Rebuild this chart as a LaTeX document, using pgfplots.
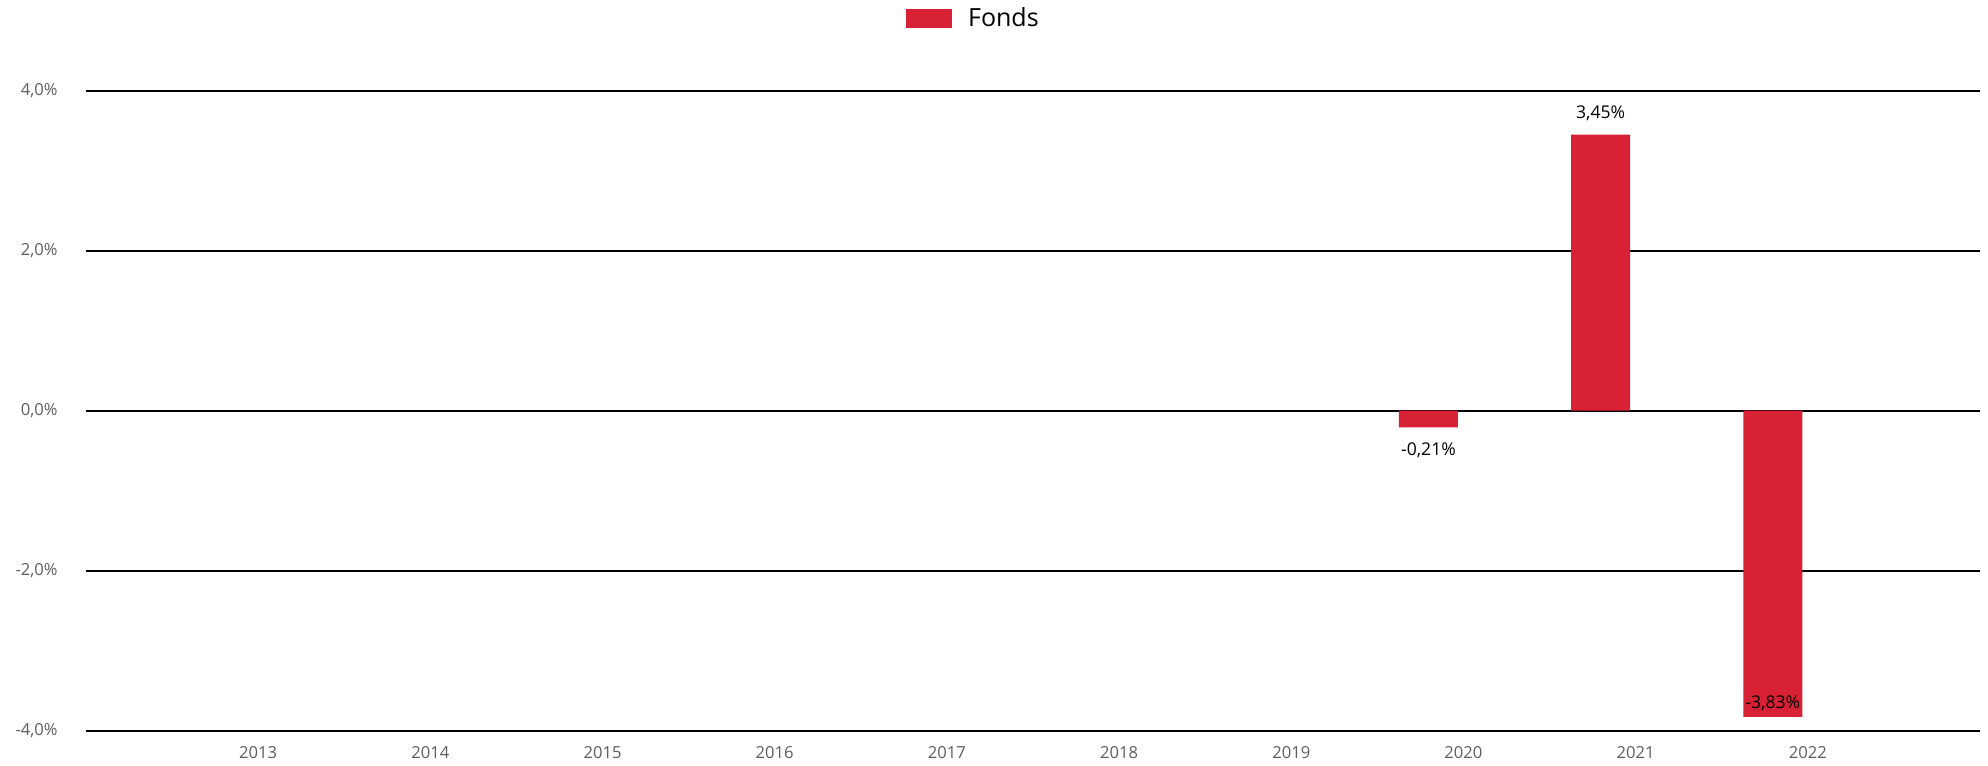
\documentclass[border=0pt]{standalone}
\usepackage{pgfplots}
\pgfplotsset{compat=1.18}
\usepackage{pgfplotstable}
\usepackage{fontspec}
\setmainfont{Open Sans}
\definecolor{barred}{RGB}{216,33,53}
\definecolor{tickgray}{RGB}{96,94,92}

\pgfplotstableread{
x y lab off
7 -0.21 {-0,21\%} -11.4
8 3.45 {3,45\%} 10.4
9 -3.83 {-3,83\%} 6.75
}\fondsdata

\begin{document}
\begin{tikzpicture}
\path[use as bounding box] (-43pt,-17.75pt) rectangle (951pt,365.25pt);
\begin{axis}[
  at={(0pt,0pt)}, anchor=south west,
  scale only axis, width=947pt, height=320pt,
  xmin=-1, xmax=10, ymin=-4, ymax=4,
  axis line style={draw=none},
  major tick length=0pt,
  ytick={-4,-2,0,2,4},
  yticklabels={{-4,0\%},{-2,0\%},{0,0\%},{2,0\%},{4,0\%}},
  xtick={0,1,2,3,4,5,6,7,8,9},
  xticklabels={2013,2014,2015,2016,2017,2018,2019,2020,2021,2022},
  ymajorgrids, xmajorgrids=false,
  grid style={black, line width=1pt},
  ybar,
  /pgf/number format/assume math mode=true,
  ticklabel style={font=\fontsize{8.3}{10}\selectfont, text=tickgray},
  yticklabel style={anchor=east, inner sep=0pt, xshift=-14pt},
  xticklabel style={anchor=north, inner sep=0pt, yshift=-8pt},
  legend style={draw=none, fill=none, inner sep=0pt, outer sep=0pt,
    at={(0.433,1)}, anchor=west, yshift=36pt,
    font=\fontsize{12.5}{14}\selectfont, nodes={inner sep=0pt}},
  legend image code/.code={\fill[barred] (0pt,-4.75pt) rectangle (23pt,4.75pt); \path (31pt,0pt);},
]
\addplot[fill=barred, draw=none, bar width=29.5pt, bar shift=-17.5pt,
  point meta=explicit symbolic,
  nodes near coords={\pgfplotspointmeta},
  visualization depends on={\thisrow{off}\as\yoff},
  every node near coord/.append style={anchor=center, yshift=\yoff pt,
    font=\fontsize{8.8}{10}\selectfont, text=black}]
  table[x=x, y=y, meta=lab] {\fondsdata};
\addlegendentry{Fonds}
\end{axis}
\end{tikzpicture}
\end{document}
